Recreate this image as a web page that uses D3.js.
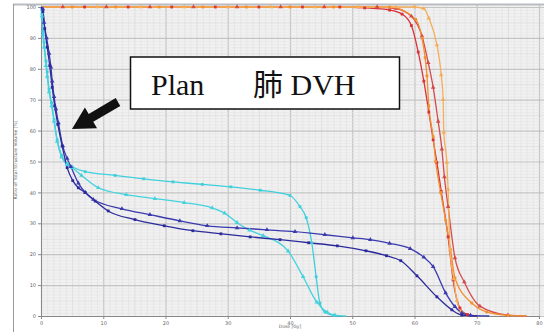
<!DOCTYPE html>
<html><head><meta charset="utf-8">
<script src="https://cdn.jsdelivr.net/npm/d3@7"></script>
<style>html,body{margin:0;padding:0;background:#fff;}svg{display:block;}</style>
</head><body>
<svg id="c" width="544" height="332"></svg>
<script>
// ---- data (dose [Gy], volume [%]) ----
const xTicks = [0,10,20,30,40,50,60,70,80];
const yTicks = [0,10,20,30,40,50,60,70,80,90,100];
const xLabel = "Dose [Gy]";
const yLabel = "Ratio of Total Structure Volume [%]";
const boxText1 = "Plan";
const boxText2 = "肺 DVH";

const cyanA = [[0,100],[0.15,97.7],[0.3,92],[0.5,88.6],[0.8,82.5],[1,79],[1.3,73.4],[1.7,69],[2.1,63.6],[2.6,57],[3.3,52],[4.2,49.3],[5,48.3],[7.1,46.7],[11.9,45.5],[16.5,44.4],[21.2,43.4],[25.9,42.6],[30.5,41.8],[35.2,40.7],[40,39],[41.6,35.4],[42.6,31.8],[43.5,23.7],[44.2,12.7],[44.8,4.2],[45.6,1.3],[47,0.2],[48,0]];
const cyanB = [[0,100],[0.15,97],[0.3,91],[0.5,87],[0.8,81],[1,77.5],[1.3,72.5],[1.7,68],[2.1,63],[2.6,56.5],[3.3,51.5],[4.2,49],[5,48],[6.5,45.5],[9.2,41.5],[13.7,39.3],[18.3,38],[23,36.7],[27.5,35],[29.5,33.3],[31.5,30.2],[33.5,27.8],[35.7,26],[39.7,21],[42.1,12.7],[44.3,4.5],[46,1.2],[47.2,0.3],[49,0]];
const purpleA = [[0,100],[0.3,99.4],[0.5,95],[0.9,90],[1.3,85],[1.6,80.5],[1.8,76],[2.1,71],[2.4,67],[2.8,62.5],[3.5,55],[4.2,51],[4.8,48.3],[6,43],[7.1,40],[8.4,37.7],[13,34.7],[17.5,32.8],[22.3,30.8],[26.7,29.2],[31.5,28.5],[36.3,27.9],[40.8,27.3],[45.6,26.3],[50.1,25.3],[52.9,24.7],[56,23.5],[59.3,21.8],[61.5,19],[63,16],[65,7.5],[66.5,3],[67.6,1],[69,0.2],[72,0]];
const purpleB = [[0,100],[0.3,98.5],[0.6,93],[1,87],[1.4,81],[1.8,74],[2.2,68],[2.7,62],[3.4,55],[4.2,48],[5.1,43.8],[6,41.5],[7.1,40],[8.7,37.2],[10.8,34],[15.1,31.2],[19.8,29.2],[24.4,27.6],[28.9,26.6],[33.6,25.6],[38.4,24.7],[43,23.7],[47.6,22.7],[52.2,21.1],[55.5,19.5],[57.8,17.9],[60.4,13],[63.6,6.2],[66,2],[67.6,0.3],[70,0]];
const red1 = [[0,100],[7,100],[14,100],[21,100],[28,100],[35,100],[42,100],[48,100],[52,99.7],[56,99],[58,97.7],[59.5,94],[60.6,85.4],[61.5,76],[62.3,66],[63,57],[63.6,49.7],[64.3,40.3],[65.4,25.6],[66.2,11.7],[67.3,2.6],[68.5,0.5],[70,0]];
const red2 = [[0,100],[3.5,100],[10.5,100],[17.5,100],[24.5,100],[31.5,100],[38.5,100],[45.5,100],[54,100],[57,99.5],[59.5,97],[61.2,90.6],[62.2,82],[63,74],[63.8,63],[64.4,54],[64.8,45],[65.4,35.4],[66.5,18.8],[68,11],[70.5,3.2],[75,0.3],[78,0]];
const orange2 = [[0,100],[5,100],[12,100],[19,100],[26,100],[33,100],[40,100],[47,100],[56,100],[60.2,96],[61.2,90],[61.7,83.6],[62,77.7],[62.3,68],[63,58],[63.4,50],[64.2,40],[65,31],[65.8,21.4],[66.5,12.3],[69.2,4.2],[71.6,1.3],[75,0.2],[78,0]];
const orange1 = [[0,100],[9,100],[16,100],[23,100],[30,100],[37,100],[44,100],[51,100],[57,100],[60,100],[61.5,99.5],[62.3,96.4],[63.6,87.7],[64.3,78],[64.6,70],[64.7,59.4],[65.2,49.7],[65.4,41],[65.7,21.4],[66.3,12],[66.8,5],[67.5,1.5],[68.5,0]];

const series = [
  {d: red1, c: "#d8333b", m: "sq"},
  {d: red2, c: "#d64a4a", m: "tri"},
  {d: orange2, c: "#f2902f", m: "sq"},
  {d: orange1, c: "#f4ae5a", m: "tri"},
  {d: cyanA, c: "#3fcfdc", m: "sq"},
  {d: cyanB, c: "#45d2de", m: "tri"},
  {d: purpleA, c: "#3a3aae", m: "tri"},
  {d: purpleB, c: "#2b2b9c", m: "sq"}
];

// ---- layout ----
const svg = d3.select("#c");
const x = d3.scaleLinear().domain([0,80]).range([41,539]);
const y = d3.scaleLinear().domain([0,100]).range([316,7]);

// frame
svg.append("rect").attr("x",41).attr("y",5).attr("width",544-41).attr("height",316-5).attr("fill","#f1f1f1");
svg.append("line").attr("x1",13).attr("x2",544).attr("y1",4.5).attr("y2",4.5).attr("stroke","#b9bcc2").attr("stroke-width",2);
svg.append("line").attr("x1",13.5).attr("x2",13.5).attr("y1",4).attr("y2",332).attr("stroke","#9a9a9a").attr("stroke-width",1);

// grid
const g = svg.append("g");
const xMinor = d3.range(0,81,1), yMinor = d3.range(0,101,1);
g.selectAll(".vx").data(xMinor).join("line")
  .attr("x1",d=>x(d)+0.5).attr("x2",d=>x(d)+0.5).attr("y1",5).attr("y2",316)
  .attr("stroke",d=>d%10===0?"#c4c4c4":(d%5===0?"#d6d6d6":"#e3e3e3")).attr("stroke-width",d=>d%10===0?1.2:0.7);
g.selectAll(".hy").data(yMinor).join("line")
  .attr("y1",d=>y(d)+0.5).attr("y2",d=>y(d)+0.5).attr("x1",41).attr("x2",544)
  .attr("stroke",d=>d%10===0?"#c4c4c4":(d%5===0?"#d8d8d8":"#e4e4e4")).attr("stroke-width",d=>d%10===0?1.2:0.6);

// axes
const ax = svg.append("g").attr("transform","translate(41,0)")
  .call(d3.axisLeft(y).tickValues(yTicks).tickSize(3).tickPadding(2));
const bx = svg.append("g").attr("transform","translate(0,316)")
  .call(d3.axisBottom(x).tickValues(xTicks).tickSize(3).tickPadding(2));
[ax,bx].forEach(a=>{
  a.selectAll("text").attr("font-size","5px").attr("fill","#666").attr("font-family","DejaVu Sans, sans-serif");
  a.selectAll("line").attr("stroke","#888");
  a.select(".domain").attr("stroke","#888");
});
svg.append("text").attr("x",x(40)).attr("y",328).attr("text-anchor","middle")
  .attr("font-size","4.5px").attr("fill","#666").attr("font-family","DejaVu Sans, sans-serif").text(xLabel);
svg.append("text").attr("transform","translate(17,160) rotate(-90)").attr("text-anchor","middle")
  .attr("font-size","4.5px").attr("fill","#666").attr("font-family","DejaVu Sans, sans-serif").text(yLabel);

// curves
const line = d3.line().x(d=>x(d[0])).y(d=>y(d[1])).curve(d3.curveMonotoneX);
const cg = svg.append("g");
series.forEach(s=>{
  cg.append("path").attr("d",line(s.d)).attr("fill","none").attr("stroke",s.c).attr("stroke-width",1.3);
});
series.forEach(s=>{
  const pts = s.d.slice(1,-1);
  if (s.m==="sq") {
    cg.selectAll(null).data(pts).join("rect")
      .attr("x",d=>x(d[0])-1.4).attr("y",d=>y(d[1])-1.4).attr("width",2.8).attr("height",2.8).attr("fill",s.c);
  } else {
    cg.selectAll(null).data(pts).join("path")
      .attr("transform",d=>`translate(${x(d[0])},${y(d[1])})`)
      .attr("d",d3.symbol(d3.symbolTriangle,9)()).attr("fill",s.c);
  }
});

// annotation box
svg.append("rect").attr("x",130.5).attr("y",57).attr("width",269).attr("height",52)
  .attr("fill","#fff").attr("stroke","#111").attr("stroke-width",1.5);
svg.append("text").attr("x",151).attr("y",95).attr("font-size","30px")
  .attr("font-family","'Liberation Serif', 'Noto Sans CJK JP', serif").attr("fill","#111").text(boxText1);
svg.append("text").attr("x",253).attr("y",95).attr("font-size","30px")
  .attr("font-family","'Liberation Serif', 'Noto Sans CJK JP', serif").attr("fill","#111").text(boxText2);

// arrow
(function(){
  const T=[72,129], S=[118,102];
  const dx=T[0]-S[0], dy=T[1]-S[1], L=Math.hypot(dx,dy);
  const ux=dx/L, uy=dy/L, nx=-uy, ny=ux;
  const hl=22, hw=12, sw=4.5;
  const B=[T[0]-ux*hl, T[1]-uy*hl];
  const pts=[
    [S[0]+nx*sw,S[1]+ny*sw],[B[0]+nx*sw,B[1]+ny*sw],[B[0]+nx*hw,B[1]+ny*hw],T,
    [B[0]-nx*hw,B[1]-ny*hw],[B[0]-nx*sw,B[1]-ny*sw],[S[0]-nx*sw,S[1]-ny*sw]
  ];
  svg.append("path").attr("d","M"+pts.map(p=>p.join(",")).join("L")+"Z").attr("fill","#111");
})();
</script>
</body></html>
